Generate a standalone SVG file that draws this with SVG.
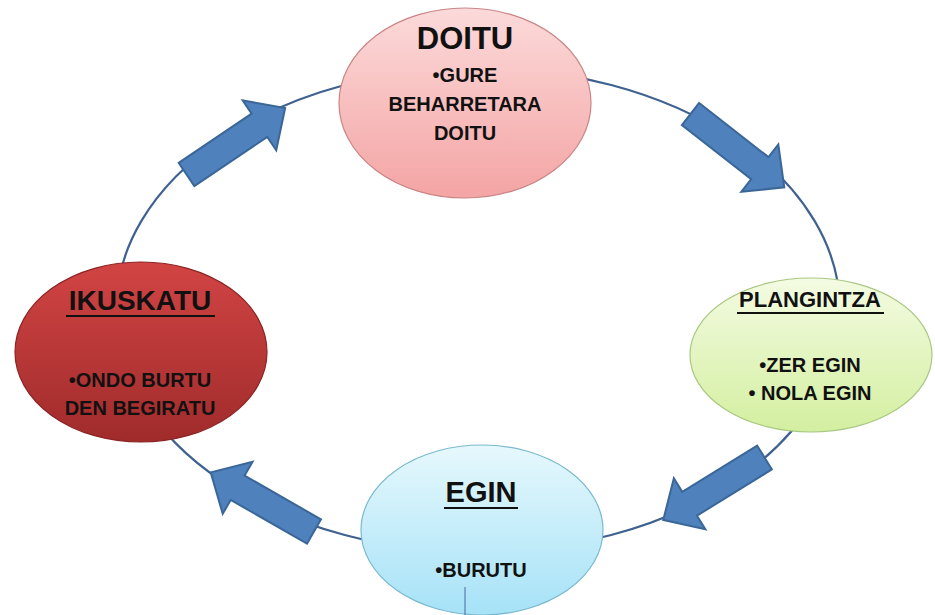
<svg xmlns="http://www.w3.org/2000/svg" width="935" height="615" viewBox="0 0 935 615">
  <style>
    .ring { fill: none; stroke: #3f6190; stroke-width: 2.2; }
    .arrow { fill: #4f81bd; stroke: #3a6797; stroke-width: 2; stroke-linejoin: miter; }
    .title { font-family: "Liberation Sans", Arial, sans-serif; font-weight: bold; fill: #111; text-anchor: middle; }
    .body { font-family: "Liberation Sans", Arial, sans-serif; font-weight: bold; fill: #111; text-anchor: middle; font-size: 20px; }
    .ul { stroke: #111; stroke-width: 2; }
  </style>
  <defs>
    <linearGradient id="gPink" x1="0" y1="0" x2="0" y2="1">
      <stop offset="0" stop-color="#fcdada"/>
      <stop offset="1" stop-color="#f4a4a4"/>
    </linearGradient>
    <linearGradient id="gGreen" x1="0" y1="0" x2="0" y2="1">
      <stop offset="0" stop-color="#f4fbe2"/>
      <stop offset="1" stop-color="#d3efa0"/>
    </linearGradient>
    <linearGradient id="gBlue" x1="0" y1="0" x2="0" y2="1">
      <stop offset="0" stop-color="#e6f8fd"/>
      <stop offset="1" stop-color="#a6e2f7"/>
    </linearGradient>
    <linearGradient id="gRed" x1="0" y1="0" x2="0" y2="1">
      <stop offset="0" stop-color="#d24444"/>
      <stop offset="1" stop-color="#a02b2b"/>
    </linearGradient>
    <!-- block arrow pointing along +x, tail at origin -->
    <path id="blockArrow" class="arrow" d="M0,-14 L88,-14 L88,-30 L119,0 L88,30 L88,14 L0,14 Z"/>
  </defs>

  <!-- cycle ring and block arrows -->
  <g id="connectors">
    <ellipse class="ring" cx="478" cy="310" rx="362" ry="242"/>
    <use href="#blockArrow" transform="translate(186.5,174.5) rotate(-34)"/>
    <use href="#blockArrow" transform="translate(690.5,114) rotate(38)"/>
    <use href="#blockArrow" transform="translate(764.5,457.5) rotate(148.3)"/>
    <use href="#blockArrow" transform="translate(314,531.5) rotate(209.8)"/>
  </g>

  <g id="doitu">
    <ellipse cx="465" cy="103" rx="126" ry="95" fill="url(#gPink)" stroke="#c98585" stroke-width="1.2"/>
    <text class="title" x="465" y="49" font-size="31">DOITU</text>
    <text class="body" x="465" y="82">•GURE</text>
    <text class="body" x="465" y="111">BEHARRETARA</text>
    <text class="body" x="465" y="140">DOITU</text>
  </g>

  <g id="plangintza">
    <ellipse cx="811" cy="355" rx="121" ry="77" fill="url(#gGreen)" stroke="#a9c982" stroke-width="1.2"/>
    <text class="title" x="810" y="307" font-size="22">PLANGINTZA</text>
    <line class="ul" x1="737" y1="313" x2="884" y2="313"/>
    <text class="body" x="810" y="372">•ZER EGIN</text>
    <text class="body" x="810" y="400">• NOLA EGIN</text>
  </g>

  <g id="egin">
    <ellipse cx="482" cy="530" rx="121" ry="85" fill="url(#gBlue)" stroke="#7ab9cf" stroke-width="1.2"/>
    <text class="title" x="481" y="502" font-size="29">EGIN</text>
    <line class="ul" x1="444" y1="508" x2="518" y2="508"/>
    <text class="body" x="481" y="577">•BURUTU</text>
    <line x1="465" y1="587" x2="465" y2="615" stroke="#4a68a0" stroke-width="1"/>
  </g>

  <g id="ikuskatu">
    <ellipse cx="141" cy="352" rx="126" ry="90" fill="url(#gRed)" stroke="#8c2424" stroke-width="1.2"/>
    <text class="title" x="140" y="310" font-size="28">IKUSKATU</text>
    <line class="ul" x1="66" y1="316" x2="215" y2="316"/>
    <text class="body" x="140" y="387">•ONDO BURTU</text>
    <text class="body" x="140" y="415">DEN BEGIRATU</text>
  </g>
</svg>
